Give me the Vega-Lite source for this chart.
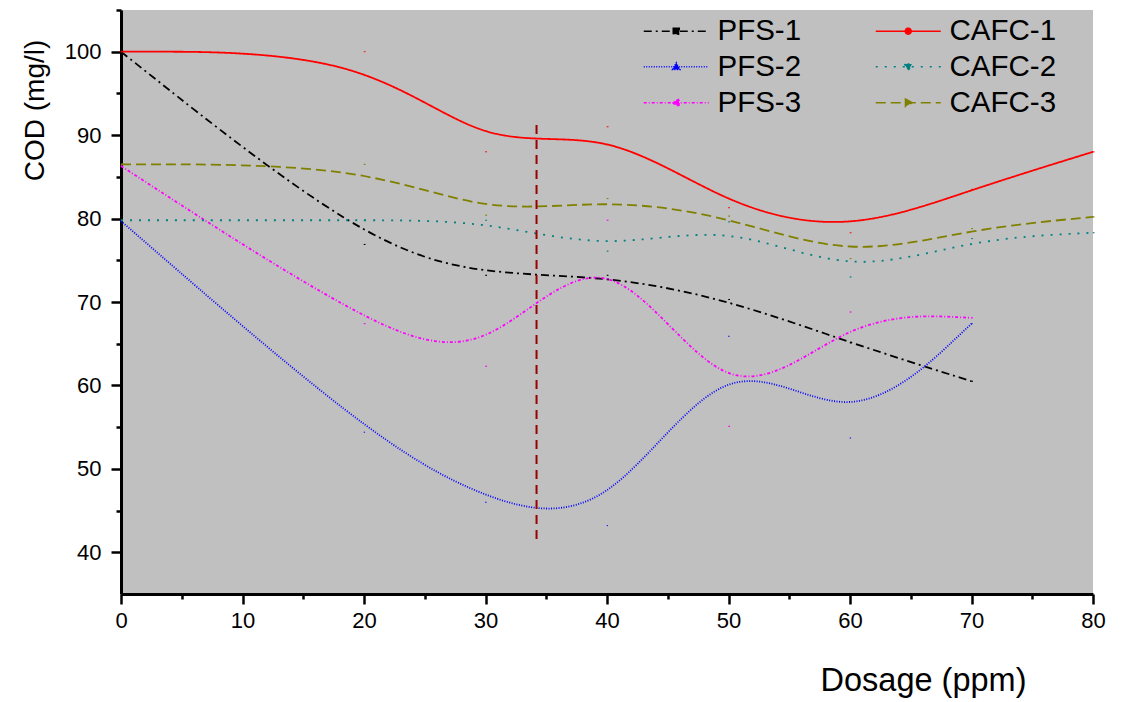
{
  "$schema": "https://vega.github.io/schema/vega-lite/v6.json",
  "width": 972,
  "height": 584,
  "autosize": {"type": "none"},
  "padding": {"left": 121, "top": 10, "right": 32, "bottom": 108},
  "background": "white",
  "config": {
    "view": {"fill": "#C0C0C0", "stroke": null},
    "font": "Liberation Sans",
    "legend": {
      "orient": "none",
      "legendX": 518,
      "legendY": 6,
      "columns": 2,
      "direction": "horizontal",
      "symbolSize": 400,
      "symbolStrokeWidth": 1.5,
      "labelFontSize": 29.5,
      "labelColor": "black",
      "labelOffset": 49,
      "labelLimit": 300,
      "columnPadding": 69,
      "rowPadding": 5,
      "titleFontSize": 0
    }
  },
  "datasets": {
    "curves": [
      {"series": "PFS-1", "dosage": 0, "cod": 100},
      {"series": "PFS-1", "dosage": 20, "cod": 76.9},
      {"series": "PFS-1", "dosage": 30, "cod": 73.2},
      {"series": "PFS-1", "dosage": 40, "cod": 73.2},
      {"series": "PFS-1", "dosage": 50, "cod": 70.3},
      {"series": "PFS-1", "dosage": 60, "cod": 65.1},
      {"series": "PFS-1", "dosage": 70, "cod": 60.5},
      {"series": "PFS-2", "dosage": 0, "cod": 79.7},
      {"series": "PFS-2", "dosage": 20, "cod": 54.4},
      {"series": "PFS-2", "dosage": 30, "cod": 46.0},
      {"series": "PFS-2", "dosage": 40, "cod": 43.2},
      {"series": "PFS-2", "dosage": 50, "cod": 65.9},
      {"series": "PFS-2", "dosage": 60, "cod": 53.7},
      {"series": "PFS-2", "dosage": 70, "cod": 67.4},
      {"series": "PFS-3", "dosage": 0, "cod": 86.3},
      {"series": "PFS-3", "dosage": 20, "cod": 67.4},
      {"series": "PFS-3", "dosage": 30, "cod": 62.3},
      {"series": "PFS-3", "dosage": 40, "cod": 79.8},
      {"series": "PFS-3", "dosage": 50, "cod": 55.1},
      {"series": "PFS-3", "dosage": 60, "cod": 68.8},
      {"series": "PFS-3", "dosage": 70, "cod": 68.1},
      {"series": "CAFC-1", "dosage": 0, "cod": 100},
      {"series": "CAFC-1", "dosage": 20, "cod": 100},
      {"series": "CAFC-1", "dosage": 30, "cod": 88.0},
      {"series": "CAFC-1", "dosage": 40, "cod": 91.0},
      {"series": "CAFC-1", "dosage": 50, "cod": 81.3},
      {"series": "CAFC-1", "dosage": 60, "cod": 78.3},
      {"series": "CAFC-1", "dosage": 70, "cod": 83.5},
      {"series": "CAFC-1", "dosage": 80, "cod": 88.0},
      {"series": "CAFC-2", "dosage": 0, "cod": 79.8},
      {"series": "CAFC-2", "dosage": 20, "cod": 79.8},
      {"series": "CAFC-2", "dosage": 30, "cod": 79.8},
      {"series": "CAFC-2", "dosage": 40, "cod": 76.1},
      {"series": "CAFC-2", "dosage": 50, "cod": 79.6},
      {"series": "CAFC-2", "dosage": 60, "cod": 73.0},
      {"series": "CAFC-2", "dosage": 70, "cod": 77.6},
      {"series": "CAFC-2", "dosage": 80, "cod": 78.3},
      {"series": "CAFC-3", "dosage": 0, "cod": 86.5},
      {"series": "CAFC-3", "dosage": 20, "cod": 86.5},
      {"series": "CAFC-3", "dosage": 30, "cod": 80.4},
      {"series": "CAFC-3", "dosage": 40, "cod": 82.4},
      {"series": "CAFC-3", "dosage": 50, "cod": 80.3},
      {"series": "CAFC-3", "dosage": 60, "cod": 75.2},
      {"series": "CAFC-3", "dosage": 70, "cod": 78.8},
      {"series": "CAFC-3", "dosage": 80, "cod": 80.2}
    ],
    "marker": [
      {"dosage": 34.2, "lo": 41.6, "hi": 91.9}
    ]
  },
  "layer": [
    {
      "data": {"name": "curves"},
      "mark": {"type": "line", "interpolate": "basis", "strokeWidth": 1.8},
      "encoding": {
        "x": {
          "field": "dosage", "type": "quantitative",
          "scale": {"domain": [0, 80], "nice": false, "zero": false},
          "axis": {
            "title": "Dosage (ppm)",
            "values": [0, 5, 10, 15, 20, 25, 30, 35, 40, 45, 50, 55, 60, 65, 70, 75, 80],
            "labelExpr": "datum.value % 10 === 0 ? datum.label : ''",
            "tickSize": {"condition": {"test": "datum.value % 10 === 0", "value": 10}, "value": 5},
            "tickWidth": 2.5,
            "tickColor": "black",
            "domainColor": "black",
            "domainWidth": 3,
            "grid": false,
            "labelFontSize": 22,
            "labelColor": "black",
            "labelPadding": 6,
            "labelFlush": false,
            "titleFontSize": 32.5,
            "titleFontWeight": "normal",
            "titleColor": "black",
            "titleX": 802,
            "titleY": 96,
            "titleAlign": "center",
            "titleBaseline": "alphabetic"
          }
        },
        "y": {
          "field": "cod", "type": "quantitative",
          "scale": {"domain": [35, 105], "nice": false, "zero": false},
          "axis": {
            "title": "COD (mg/l)",
            "values": [40, 45, 50, 55, 60, 65, 70, 75, 80, 85, 90, 95, 100, 105],
            "labelExpr": "datum.value % 10 === 0 ? datum.label : ''",
            "tickSize": {"condition": {"test": "datum.value % 10 === 0", "value": 10}, "value": 5},
            "tickWidth": 2.5,
            "tickColor": "black",
            "domainColor": "black",
            "domainWidth": 3,
            "grid": false,
            "labelFontSize": 22,
            "labelColor": "black",
            "labelPadding": 10,
            "labelFlush": false,
            "titleFontSize": 28,
            "titleFontWeight": "normal",
            "titleColor": "black",
            "titleAngle": -90,
            "titleX": -78,
            "titleY": 100,
            "titleAlign": "center",
            "titleBaseline": "alphabetic"
          }
        },
        "color": {
          "field": "series", "type": "nominal", "title": null,
          "scale": {
            "domain": ["PFS-1", "CAFC-1", "PFS-2", "CAFC-2", "PFS-3", "CAFC-3"],
            "range": ["#000000", "#FF0000", "#0000FF", "#008080", "#FF00FF", "#808000"]
          }
        },
        "strokeDash": {
          "field": "series", "type": "nominal", "title": null,
          "scale": {
            "domain": ["PFS-1", "CAFC-1", "PFS-2", "CAFC-2", "PFS-3", "CAFC-3"],
            "range": [[8, 4, 2, 4], [1, 0], [1, 1.5], [2, 7], [3, 2, 1, 2], [10, 5]]
          }
        }
      }
    },
    {
      "data": {"name": "curves"},
      "mark": {"type": "point", "filled": true, "size": 0.3, "strokeWidth": 1, "opacity": 1},
      "encoding": {
        "x": {"field": "dosage", "type": "quantitative"},
        "y": {"field": "cod", "type": "quantitative"},
        "fill": {
          "field": "series", "type": "nominal", "title": null,
          "scale": {
            "domain": ["PFS-1", "CAFC-1", "PFS-2", "CAFC-2", "PFS-3", "CAFC-3"],
            "range": ["#000000", "#FF0000", "#0000FF", "#008080", "#FF00FF", "#808000"]
          }
        },
        "stroke": {
          "field": "series", "type": "nominal", "title": null,
          "scale": {
            "domain": ["PFS-1", "CAFC-1", "PFS-2", "CAFC-2", "PFS-3", "CAFC-3"],
            "range": ["#000000", "#FF0000", "#0000FF", "#008080", "#FF00FF", "#808000"]
          }
        },
        "shape": {
          "field": "series", "type": "nominal", "title": null,
          "scale": {
            "domain": ["PFS-1", "CAFC-1", "PFS-2", "CAFC-2", "PFS-3", "CAFC-3"],
            "range": [
              "M-1,0H5.5M1.95,-0.3H2.55V0.3H1.95Z",
              "M-1,0H5.5M2.55,0A0.3,0.3,0,1,1,1.95,0A0.3,0.3,0,1,1,2.55,0Z",
              "M-1,0H5.5M1.88,0.28L2.25,-0.4L2.62,0.28Z",
              "M-1,0H5.5M1.88,-0.28L2.25,0.4L2.62,-0.28Z",
              "M-1,0H5.5M2.53,-0.37L1.85,0L2.53,0.37Z",
              "M-1,0H5.5M1.97,-0.37L2.65,0L1.97,0.37Z"
            ]
          }
        },
        "strokeDash": {"field": "series", "type": "nominal", "title": null}
      }
    },
    {
      "data": {"name": "marker"},
      "mark": {"type": "rule", "color": "#990000", "strokeWidth": 2, "strokeDash": [9, 6]},
      "encoding": {
        "x": {"field": "dosage", "type": "quantitative"},
        "y": {"field": "lo", "type": "quantitative"},
        "y2": {"field": "hi"}
      }
    }
  ]
}
